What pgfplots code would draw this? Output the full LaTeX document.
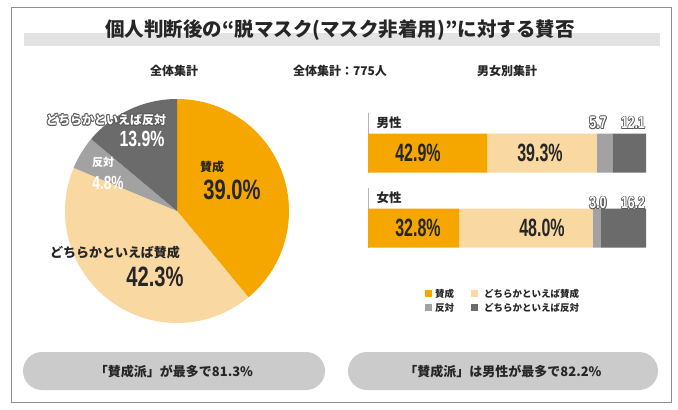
\documentclass[border=0pt]{standalone}
\usepackage{fontspec}
\usepackage{pgfplots}
\pgfplotsset{compat=1.18}
\usepackage{pgfplotstable}
\setmainfont{Noto Sans CJK JP}
\newfontfamily\numf{Liberation Sans}[FakeStretch=0.72]
\newfontfamily\numb{Liberation Sans}[FakeStretch=0.64]
\definecolor{cOr}{HTML}{F5A700}
\definecolor{cLt}{HTML}{FAD8A2}
\definecolor{cGy}{HTML}{A2A2A2}
\definecolor{cDk}{HTML}{6B6B6B}
\definecolor{band}{HTML}{E3E3E3}
\definecolor{pill}{HTML}{CBCBCB}
\definecolor{framec}{HTML}{8C8C8C}
\definecolor{txt}{HTML}{262626}
\definecolor{halocol}{HTML}{5A5A5A}
\newcommand\fs[1]{\fontsize{#1}{#1}\selectfont}
\newcommand\hc[2]{\rlap{\hspace*{#1}\raisebox{#2}{\textcolor{halocol}{\copy0}}}}
\newcommand\halo[1]{\setbox0=\hbox{#1}%
 \hc{0.8pt}{0pt}\hc{-0.8pt}{0pt}\hc{0pt}{0.8pt}\hc{0pt}{-0.8pt}%
 \hc{0.57pt}{0.57pt}\hc{-0.57pt}{0.57pt}\hc{0.57pt}{-0.57pt}\hc{-0.57pt}{-0.57pt}%
 \textcolor{white}{\box0}}

\pgfplotstableread{
value
39.0
42.3
4.8
13.9
}\pietable

\pgfplotstableread{
y a b c d
95 42.9 39.3 5.7 12.1
20 32.8 48.0 3.0 16.2
}\bartable

\begin{document}
\begin{tikzpicture}[x=1pt,y=-1pt]
\fill[white] (0,0) rectangle (678,410);
\draw[framec, line width=0.8pt] (11,7) rectangle (671,402);
\fill[band] (24,33) rectangle (660,46);
\node[text=txt] at (340,30) {\fs{19.5}\bfseries 個人判断後の“脱マスク(マスク非着用)”に対する賛否};
\node[text=txt] at (174,71) {\fs{12}\bfseries 全体集計};
\node[text=txt] at (340,71) {\fs{12}\bfseries 全体集計：775人};
\node[text=txt] at (507,71) {\fs{12}\bfseries 男女別集計};

% pie angles from the table
\pgfplotstablegetelem{0}{value}\of\pietable \pgfmathsetmacro\va{\pgfplotsretval}
\pgfplotstablegetelem{1}{value}\of\pietable \pgfmathsetmacro\vb{\pgfplotsretval}
\pgfplotstablegetelem{2}{value}\of\pietable \pgfmathsetmacro\vc{\pgfplotsretval}
\pgfplotstablegetelem{3}{value}\of\pietable \pgfmathsetmacro\vd{\pgfplotsretval}
\pgfmathsetmacro\aA{90}
\pgfmathsetmacro\aB{\aA-3.6*\va}
\pgfmathsetmacro\aC{\aB-3.6*\vb}
\pgfmathsetmacro\aD{\aC-3.6*\vc}
\pgfmathsetmacro\aE{\aD-3.6*\vd}

\begin{axis}[at={(177pt,-211pt)}, anchor=center, width=224pt, height=224pt, scale only axis,
  xmin=-1, xmax=1, ymin=-1, ymax=1, hide axis, clip=false]
\fill[cOr] (axis cs:0,0) -- ++(\aA:112pt) arc[start angle=\aA, end angle=\aB, radius=112pt] -- cycle;
\fill[cLt] (axis cs:0,0) -- ++(\aB:112pt) arc[start angle=\aB, end angle=\aC, radius=112pt] -- cycle;
\fill[cGy] (axis cs:0,0) -- ++(\aC:112pt) arc[start angle=\aC, end angle=\aD, radius=112pt] -- cycle;
\fill[cDk] (axis cs:0,0) -- ++(\aD:112pt) arc[start angle=\aD, end angle=\aE, radius=112pt] -- cycle;
\end{axis}

\node[text=txt] at (212,167) {\fs{12}\bfseries 賛成};
\node[text=txt] at (232,190) {\numf\bfseries\fs{28}39.0\%};
\node[text=txt] at (115,253) {\fs{13}\bfseries どちらかといえば賛成};
\node[text=txt] at (155,277) {\numf\bfseries\fs{28}42.3\%};
\node[text=white] at (103,162) {\fs{11}\bfseries 反対};
\node[text=white] at (108,183) {\numf\bfseries\fs{19}4.8\%};
\node at (106,120) {\fs{12}\bfseries\halo{どちらかといえば反対}};
\node[text=white] at (142,139) {\numf\bfseries\fs{22}13.9\%};

% bars
\draw[cGy!80, line width=1pt] (368.5,113) -- (368.5,173);
\draw[cGy!80, line width=1pt] (368.5,188) -- (368.5,248);
\node[text=txt, anchor=west] at (373,123) {\fs{12.5}\bfseries 男性};
\node[text=txt, anchor=west] at (373,198) {\fs{12.5}\bfseries 女性};
\begin{axis}[at={(368pt,-248pt)}, anchor=south west, width=278pt, height=115pt, scale only axis,
  xmin=0, xmax=100, ymin=0, ymax=115, hide axis, clip=false,
  xbar stacked, bar width=39pt]
\addplot[fill=cOr, draw=none] table[x=a, y=y]{\bartable};
\addplot[fill=cLt, draw=none] table[x=b, y=y]{\bartable};
\addplot[fill=cGy, draw=none] table[x=c, y=y]{\bartable};
\addplot[fill=cDk, draw=none] table[x=d, y=y]{\bartable};
\end{axis}
\node[text=txt] at (418,153) {\numb\bfseries\fs{25}42.9\%};
\node[text=txt] at (540,153) {\numb\bfseries\fs{25}39.3\%};
\node[text=txt] at (418,228) {\numb\bfseries\fs{25}32.8\%};
\node[text=txt] at (542,228) {\numb\bfseries\fs{25}48.0\%};
\node at (598,123) {\numf\bfseries\fs{17}\halo{5.7}};
\node at (633,123) {\numf\bfseries\fs{17}\halo{12.1}};
\node at (598,203) {\numf\bfseries\fs{17}\halo{3.0}};
\node at (633,203) {\numf\bfseries\fs{17}\halo{16.2}};

% legend
\fill[cOr] (425,290) rectangle (432,297);
\node[text=txt, anchor=west, inner sep=0pt] at (435,293.5) {\fs{9.5}\bfseries 賛成};
\fill[cLt] (471,290) rectangle (478,297);
\node[text=txt, anchor=west, inner sep=0pt] at (484,293.5) {\fs{9.5}\bfseries どちらかといえば賛成};
\fill[cGy] (425,304) rectangle (432,311);
\node[text=txt, anchor=west, inner sep=0pt] at (435,307.5) {\fs{9.5}\bfseries 反対};
\fill[cDk] (471,304) rectangle (478,311);
\node[text=txt, anchor=west, inner sep=0pt] at (484,307.5) {\fs{9.5}\bfseries どちらかといえば反対};

% pills
\fill[pill, rounded corners=19pt] (23,352) rectangle (325,390);
\fill[pill, rounded corners=19pt] (348,352) rectangle (658,390);
\node[text=txt] at (174,372) {\fs{13}\bfseries 「賛成派」が最多で81.3\%};
\node[text=txt] at (503,372) {\fs{13}\bfseries 「賛成派」は男性が最多で82.2\%};
\end{tikzpicture}
\end{document}
